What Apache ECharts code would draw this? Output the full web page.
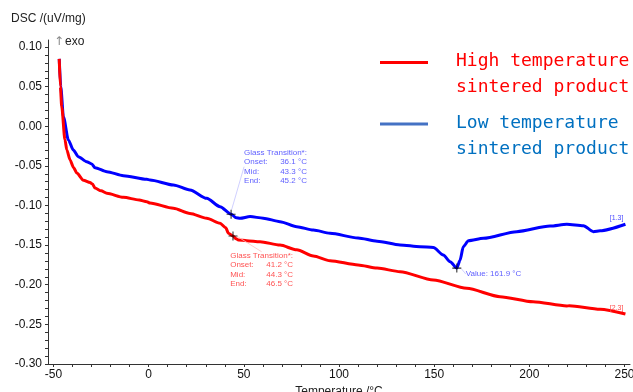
<!DOCTYPE html>
<html>
<head>
<meta charset="utf-8">
<script src="https://cdn.jsdelivr.net/npm/echarts@6/dist/echarts.min.js"></script>
<style>html,body{margin:0;padding:0;background:#fff}#c{width:633px;height:392px}</style>
</head>
<body>
<div id="c"></div>
<script>
// ---- data ----
const seriesNames = ['Low temperature sintered product', 'High temperature sintered product'];
const legendLines = [['High temperature', 'sintered product'], ['Low temperature', 'sintered product']];
const endTags = ['[1.3]', '[2.3]'];

const lowTemp = [-47.0, -46.2, -44.8, -42.2, -39.6, -37.0, -32.6, -29.9, -28.2, -22.0, -13.3, -1.0, 0.7, 13.0, 21.7, 30.5, 37.5, 43.3, 46.0, 48.0, 53.3, 60.2, 69.0, 77.8, 86.5, 95.3, 110.0, 120.0, 132.1, 142.6, 149.6, 154.8, 158.4, 161.9, 163.6, 165.3, 168.0, 175.9, 193.4, 210.9, 219.7, 228.4, 233.7, 237.2, 250.5];
const lowDsc  = [0.085, 0.050, 0.012, -0.0173, -0.030, -0.0384, -0.0447, -0.0476, -0.0523, -0.0573, -0.0624, -0.067, -0.0678, -0.0741, -0.0804, -0.091, -0.1015, -0.111, -0.1155, -0.1162, -0.114, -0.116, -0.1204, -0.1267, -0.131, -0.135, -0.141, -0.145, -0.1498, -0.152, -0.153, -0.1625, -0.171, -0.179, -0.169, -0.152, -0.1444, -0.1414, -0.133, -0.1259, -0.1237, -0.1255, -0.133, -0.132, -0.1237];

const highTemp = [-47.0, -46.4, -45.7, -44.0, -43.0, -41.3, -39.5, -37.8, -34.3, -30.8, -29.5, -28.2, -25.0, -22.0, -13.3, -5.0, -1.0, 0.7, 13.0, 21.7, 30.5, 37.5, 40.5, 41.9, 44.3, 46.0, 47.1, 51.5, 58.5, 69.0, 77.8, 86.5, 95.3, 110.0, 120.0, 132.1, 149.6, 167.1, 184.6, 202.0, 219.7, 221.0, 237.2, 250.5];
const highDsc  = [0.085, 0.050, 0.025, -0.017, -0.030, -0.0426, -0.052, -0.059, -0.068, -0.071, -0.073, -0.078, -0.0815, -0.0846, -0.0897, -0.093, -0.0952, -0.097, -0.1035, -0.110, -0.116, -0.1225, -0.128, -0.135, -0.1385, -0.142, -0.1435, -0.1444, -0.1457, -0.150, -0.156, -0.1637, -0.1697, -0.175, -0.179, -0.1835, -0.194, -0.2045, -0.215, -0.2214, -0.2268, -0.2265, -0.231, -0.237];

// annotations: Glass transition (onset, mid, end) and peak
const lowTg  = [36.1, 43.3, 45.2];
const highTg = [41.2, 44.3, 46.5];
const lowTgDsc = -0.111;
const highTgDsc = -0.1385;
const peakTemp = 161.9;
const peakDsc = -0.179;

const xTickLabels = [-50, 0, 50, 100, 150, 200, 250];
const yTickLabels = [-0.30, -0.25, -0.20, -0.15, -0.10, -0.05, 0.00, 0.05, 0.10];

// ---- build ----
const zip = (a, b) => a.map((v, i) => [v, b[i]]);
const xMinor = []; for (let v = -50; v <= 250; v += 10) xMinor.push(v);
const yMinor = []; for (let i = -30; i <= 10; i++) yMinor.push(i / 100);

const BLUE_TXT = '#3434ff', RED_TXT = '#ff2626';
const fontF = '"Liberation Sans", Arial, sans-serif';

function tgLabel(vals) {
  return '{h|Glass Transition*:}\n{l|Onset:}{v|' + vals[0].toFixed(1) + ' °C}\n{l|Mid:}{v|' + vals[1].toFixed(1) + ' °C}\n{l|End:}{v|' + vals[2].toFixed(1) + ' °C}';
}
const richTg = {
  h: { fontSize: 8, lineHeight: 9.5, fontFamily: fontF },
  l: { fontSize: 8, lineHeight: 9.5, width: 26, fontFamily: fontF },
  v: { fontSize: 8, lineHeight: 9.5, width: 31, align: 'right', fontFamily: fontF }
};
const crossPath = 'path://M-0.55,-4.5H0.55V4.5H-0.55Z M-4.5,-0.55H4.5V0.55H-4.5Z';
const layouts = [{ dx: 8.5, dy: -47.5 }, { dx: -7.3, dy: 34 }, { dx: 4.5, dy: 6 }];

const endLabelBase = { show: true, align: 'right', verticalAlign: 'bottom', distance: 0, offset: [-2, -3],
  fontSize: 7, fontFamily: fontF };

const chart = echarts.init(document.getElementById('c'));
chart.setOption({
  animation: false,
  title: { text: 'DSC /(uV/mg)', left: 11, top: 13, padding: 0,
    textStyle: { fontSize: 12, fontWeight: 'normal', color: '#222', fontFamily: fontF } },
  grid: { left: 48, right: 3, top: 40, bottom: 28, outerBoundsMode: 'none', containLabel: false },
  xAxis: {
    type: 'value', min: -52.9, max: 252.9,
    name: 'Temperature /°C', nameLocation: 'middle', nameGap: 14,
    nameTextStyle: { fontSize: 12, color: '#222', fontFamily: fontF },
    axisLine: { show: true, onZero: false, lineStyle: { color: '#333', width: 1 } },
    axisTick: { show: true, length: 3, customValues: xMinor, lineStyle: { color: '#333' } },
    axisLabel: { customValues: xTickLabels, fontSize: 12, color: '#111', margin: 5, fontFamily: fontF },
    splitLine: { show: false }
  },
  yAxis: {
    type: 'value', min: -0.30, max: 0.1088,
    axisLine: { show: true, onZero: false, lineStyle: { color: '#333', width: 1 } },
    axisTick: { show: true, length: 3, customValues: yMinor, lineStyle: { color: '#333' } },
    axisLabel: { customValues: yTickLabels, fontSize: 12, color: '#111', margin: 6, fontFamily: fontF,
      formatter: v => v.toFixed(2) },
    splitLine: { show: false }
  },
  series: [
    { name: seriesNames[0], type: 'line', data: zip(lowTemp, lowDsc), showSymbol: false,
      smooth: 0.25, smoothMonotone: 'x',
      lineStyle: { color: '#0000ff', width: 3 }, itemStyle: { color: '#0000ff' },
      endLabel: Object.assign({}, endLabelBase, { formatter: endTags[0], color: '#4a4aff' }) },
    { name: seriesNames[1], type: 'line', data: zip(highTemp, highDsc), showSymbol: false,
      smooth: 0.25, smoothMonotone: 'x',
      lineStyle: { color: '#ff0000', width: 3 }, itemStyle: { color: '#ff0000' },
      endLabel: Object.assign({}, endLabelBase, { formatter: endTags[1], color: '#ff4a4a' }) },
    { name: 'markers', type: 'scatter', symbol: crossPath, symbolSize: 9, z: 5,
      itemStyle: { color: '#000' },
      label: { show: true, position: 'right', distance: 0 },
      labelLayout: p => layouts[p.dataIndex],
      labelLine: { show: true, lineStyle: { width: 0.8 } },
      data: [
        { value: [lowTg[1], lowTgDsc],
          label: { formatter: tgLabel(lowTg), color: BLUE_TXT, rich: richTg },
          labelLine: { show: true, lineStyle: { color: '#c4c4ff', width: 0.8 } } },
        { value: [highTg[1], highTgDsc],
          label: { formatter: tgLabel(highTg), color: RED_TXT, rich: richTg },
          labelLine: { show: true, lineStyle: { color: '#ffc0c0', width: 0.8 } } },
        { value: [peakTemp, peakDsc],
          label: { formatter: 'Value: ' + peakTemp.toFixed(1) + ' °C', color: BLUE_TXT, fontSize: 8, fontFamily: fontF },
          labelLine: { show: true, lineStyle: { color: '#c4c4ff', width: 0.8 } } }
      ]
    }
  ],
  graphic: [
    { type: 'text', left: 54, top: 36, style: { text: '↑', fill: '#888', font: '12px "DejaVu Sans", sans-serif' } },
    { type: 'text', left: 65, top: 36, style: { text: 'exo', fill: '#222', font: '12px ' + fontF } },
    { type: 'line', shape: { x1: 380, y1: 62.5, x2: 428, y2: 62.5 }, style: { stroke: '#ff0000', lineWidth: 3 } },
    { type: 'text', x: 456, y: 48, style: { text: legendLines[0].join('\n'), fill: '#ff0000', lineHeight: 26,
      font: '18px "DejaVu Sans Mono", monospace' } },
    { type: 'line', shape: { x1: 380, y1: 124, x2: 428, y2: 124 }, style: { stroke: '#4472c4', lineWidth: 3 } },
    { type: 'text', x: 456, y: 110, style: { text: legendLines[1].join('\n'), fill: '#0070c0', lineHeight: 26,
      font: '18px "DejaVu Sans Mono", monospace' } }
  ]
});
</script>
</body>
</html>
